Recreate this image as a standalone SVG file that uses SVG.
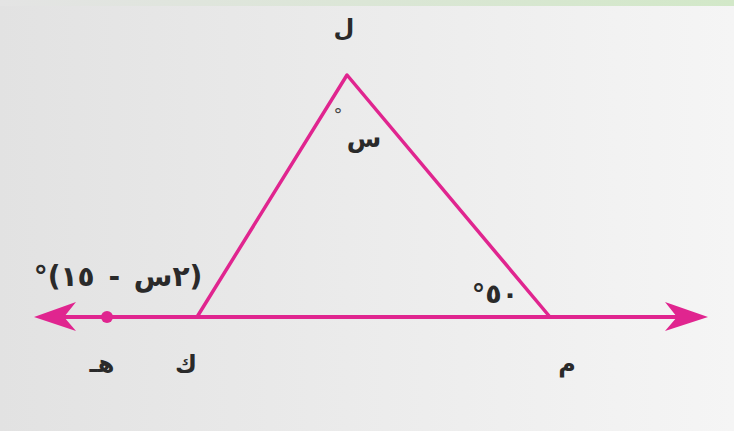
<svg xmlns="http://www.w3.org/2000/svg" width="734" height="431" viewBox="0 0 734 431">
  <defs>
    <linearGradient id="bg" x1="0" y1="0" x2="1" y2="0">
      <stop offset="0" stop-color="#e2e2e2"/>
      <stop offset="1" stop-color="#f5f5f5"/>
    </linearGradient>
    <linearGradient id="topline" x1="0" y1="0" x2="1" y2="0">
      <stop offset="0" stop-color="#e4e4e4"/>
      <stop offset="1" stop-color="#d2e8c8"/>
    </linearGradient>
  </defs>
  <style>
    .ln { stroke: #e0258f; fill: none; stroke-linecap: round; stroke-linejoin: round; }
    .lbl { font-family: "DejaVu Sans", sans-serif; font-weight: bold; fill: #2a2a2a; }
    .deg { font-family: "DejaVu Sans", sans-serif; fill: #444; }
  </style>
  <rect x="0" y="0" width="734" height="431" fill="url(#bg)"/>
  <rect x="0" y="0" width="734" height="6" fill="url(#topline)"/>

  <g id="connectors">
    <line class="ln" x1="50" y1="317" x2="690" y2="317" stroke-width="4"/>
    <polygon points="34,317 76,302 64,317 76,331" fill="#e0258f"/>
    <polygon points="708,317 665,302 677,317 665,331" fill="#e0258f"/>
    <polyline class="ln" points="197,317 347,75 550,317" stroke-width="3.5"/>
  </g>

  <g id="node-L">
    <text class="lbl" x="344" y="36" font-size="24" text-anchor="middle">ل</text>
  </g>
  <g id="node-K">
    <text class="lbl" x="186" y="372" font-size="24" text-anchor="middle">ك</text>
  </g>
  <g id="node-H">
    <circle cx="107" cy="317" r="6" fill="#e0258f"/>
    <text class="lbl" x="102" y="372" font-size="24" text-anchor="middle">هـ</text>
  </g>
  <g id="node-M">
    <text class="lbl" x="567" y="372" font-size="24" text-anchor="middle">م</text>
  </g>

  <g id="angle-L">
    <text class="deg" x="338" y="121" font-size="18" text-anchor="middle">°</text>
    <text class="lbl" x="364" y="147" font-size="25" text-anchor="middle">س</text>
  </g>
  <g id="angle-M">
    <text class="lbl" x="495" y="303" font-size="27" text-anchor="middle" direction="rtl" unicode-bidi="embed">٥٠°</text>
  </g>
  <g id="angle-K">
    <text class="lbl" x="118" y="286" font-size="28" word-spacing="4" text-anchor="middle" direction="rtl" unicode-bidi="embed">(٢س - ١٥)°</text>
  </g>
</svg>
